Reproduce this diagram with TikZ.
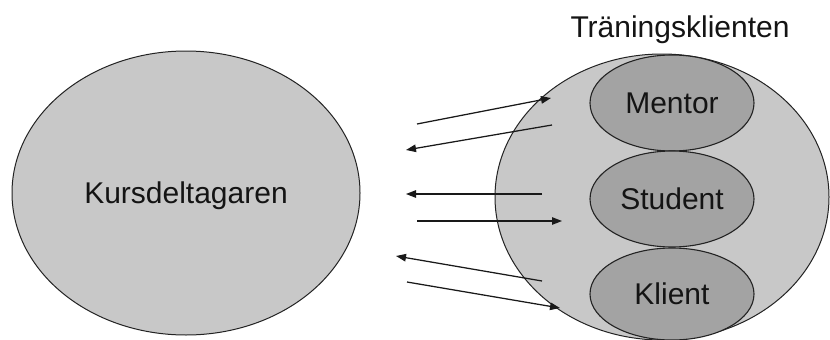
\documentclass[tikz,border=0pt]{standalone}
\usepackage{fontspec}
\setmainfont{Liberation Sans}
\usetikzlibrary{shapes.geometric,arrows.meta}
\definecolor{outerfill}{RGB}{200,200,200}
\definecolor{innerfill}{RGB}{163,163,163}
\definecolor{edge}{RGB}{35,35,35}
\tikzset{
  txt/.style={font=\fontsize{30}{35}\selectfont, text=black!92, text height=21.5pt, text depth=0pt},
  blob/.style={ellipse, draw=edge, line width=1pt, fill=outerfill, inner sep=0pt, txt},
  role/.style={ellipse, draw=edge, line width=1.1pt, fill=innerfill, inner sep=0pt,
               minimum width=164pt, txt},
  flow/.style={draw=black!90, line width=1.25pt, -{Triangle[length=10pt,width=7.5pt]}}
}
\begin{document}
\begin{tikzpicture}[x=1pt,y=-1pt]
  \fill[white] (0,0) rectangle (830,340);
  \useasboundingbox (0,0) rectangle (830,340);

  % left group
  \node[blob, minimum width=348pt, minimum height=284pt] (kurs) at (186,193) {Kursdeltagaren};

  % right group with its title
  \node[blob, minimum width=334pt, minimum height=286pt] (tran) at (662,197) {};
  \node[txt, anchor=base] (title) at (680,37) {Träningsklienten};

  % exchanges between the two groups
  \coordinate (a1) at (417,124); \coordinate (b1) at (551,98);
  \coordinate (a2) at (552,125); \coordinate (b2) at (406,150);
  \coordinate (a3) at (542,194); \coordinate (b3) at (406,194);
  \coordinate (a4) at (417,221); \coordinate (b4) at (562,221);
  \coordinate (a5) at (542,281); \coordinate (b5) at (396,256);
  \coordinate (a6) at (407,282); \coordinate (b6) at (560,308);
  \foreach \i in {1,...,6} { \draw[flow] (a\i) -- (b\i); }

  % roles inside the training group
  \node[role, minimum height=96pt] (mentor)  at (672,103) {Mentor};
  \node[role, minimum height=96pt] (student) at (672,199) {Student};
  \node[role, minimum height=92pt] (klient)  at (672,294) {Klient};
\end{tikzpicture}
\end{document}
